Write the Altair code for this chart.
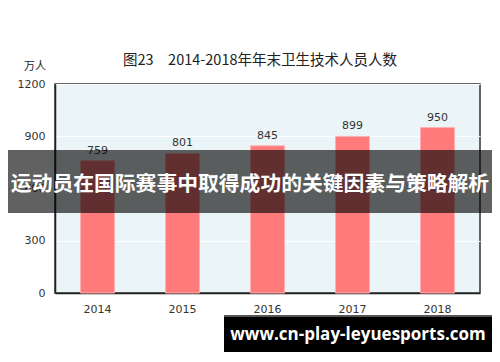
import altair as alt
import pandas as pd

years = ["2014", "2015", "2016", "2017", "2018"]
values = [759, 801, 845, 899, 950]
y_ticks = [0, 300, 600, 900, 1200]
title_text = "图23　2014-2018年年末卫生技术人员人数"
unit_text = "万人"
banner_text = "运动员在国际赛事中取得成功的关键因素与策略解析"
watermark_text = "www.cn-play-leyuesports.com"

df = pd.DataFrame({"year": years, "value": values})

W, H = 425, 209

x_enc = alt.X("year:N", sort=years,
              scale=alt.Scale(paddingInner=0.6, paddingOuter=0.3),
              axis=alt.Axis(title=None, labelAngle=0, ticks=False, labelPadding=10,
                            labelFont="DejaVu Sans", labelFontSize=11, labelColor="#333",
                            domainColor="#222", domainWidth=1.5))
y_enc = alt.Y("value:Q", scale=alt.Scale(domain=[0, 1200], nice=False),
              axis=alt.Axis(title=None, values=y_ticks, format="d", ticks=False, labelPadding=10,
                            labelFont="DejaVu Sans", labelFontSize=11, labelColor="#333",
                            gridColor="white", gridWidth=1.2,
                            domainColor="#222", domainWidth=1.5))

base = alt.Chart(df)
bars = base.mark_bar(color="#FF7B7B", stroke="#FFB0B0", strokeWidth=1).encode(x=x_enc, y=y_enc)
labels = base.mark_text(dy=-10, fontSize=11, font="DejaVu Sans", color="#333").encode(
    x=alt.X("year:N", sort=years), y="value:Q", text="value:Q")

one = pd.DataFrame({"t": [title_text], "u": [unit_text], "b": [banner_text], "w": [watermark_text]})
c1 = alt.Chart(one)
title = c1.mark_text(font="Noto Sans CJK SC", fontSize=14.5, color="#222", baseline="middle").encode(
    text="t:N", x=alt.value(205), y=alt.value(-23))
unit = c1.mark_text(font="Noto Sans CJK SC", fontSize=11, color="#222", baseline="middle").encode(
    text="u:N", x=alt.value(-20), y=alt.value(-17))
banner_rect = c1.mark_rect(color="black", opacity=0.62).encode(
    x=alt.value(-47), x2=alt.value(437), y=alt.value(66), y2=alt.value(129))
banner = c1.mark_text(font="Noto Sans CJK SC", fontSize=20.8, fontWeight="bold", color="white",
                      baseline="middle").encode(
    text="b:N", x=alt.value(195), y=alt.value(101))
wm_line = c1.mark_rect(color="#555").encode(
    x=alt.value(169), x2=alt.value(437), y=alt.value(231), y2=alt.value(233))
wm_rect = c1.mark_rect(color="black").encode(
    x=alt.value(169), x2=alt.value(437), y=alt.value(233), y2=alt.value(268))
wm = c1.mark_text(font="Open Sans", fontSize=17, fontWeight="bold", color="white",
                  baseline="middle").encode(
    text="w:N", x=alt.value(303), y=alt.value(251))

chart = alt.layer(bars, labels, title, unit, banner_rect, banner, wm_line, wm_rect, wm).properties(
    width=W, height=H,
    autosize=alt.AutoSizeParams(type="none"),
    padding={"left": 47, "top": 76, "right": 12, "bottom": 61},
    background="white",
).configure_view(fill="#EBF4F7", stroke="#333", strokeWidth=1.5)

chart.save("out.html", embed_options={"renderer": "svg", "actions": False})
